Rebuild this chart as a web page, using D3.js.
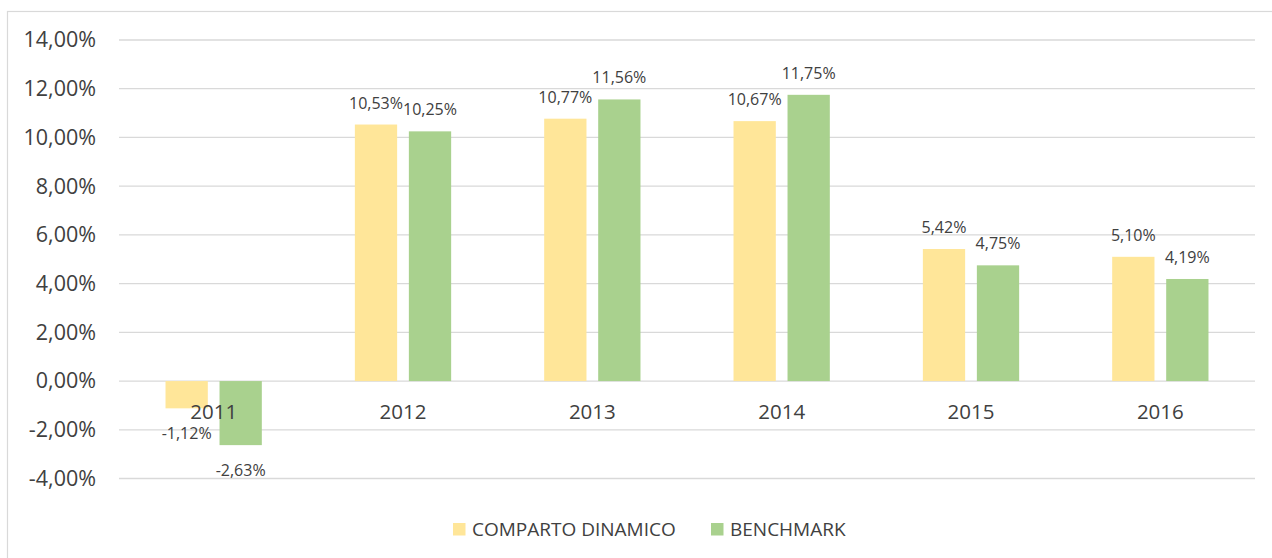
<!DOCTYPE html>
<html><head><meta charset="utf-8">
<script src="https://cdn.jsdelivr.net/npm/d3@7/dist/d3.min.js"></script>
<style>body{margin:0;background:#fff;} svg{display:block;font-family:"Open Sans",sans-serif;}</style>
</head><body><svg id="c" width="1272" height="558"></svg>
<script>
const categories = ["2011","2012","2013","2014","2015","2016"];
const seriesNames = ["COMPARTO DINAMICO","BENCHMARK"];
const comparto = [-1.12,10.53,10.77,10.67,5.42,5.10];
const benchmark = [-2.63,10.25,11.56,11.75,4.75,4.19];
const yTicks = [-4,-2,0,2,4,6,8,10,12,14];
const colors = ["#FFE699","#A9D18E"];

(function(){
const fmt = v => v.toFixed(2).replace(".", ",") + "%";
const svg = d3.select("#c");
const W = 1272, H = 558;
const pLeft = 119, pRight = 1255, pTop = 40, pBottom = 478.5;

svg.append("rect").attr("x",7.5).attr("y",11.5).attr("width",W).attr("height",H)
  .attr("fill","none").attr("stroke","#D9D9D9").attr("stroke-width",1.2);

const x = d3.scaleBand().domain(categories).range([pLeft,pRight]).paddingInner(0).paddingOuter(0);
const y = d3.scaleLinear().domain([-4,14]).range([pBottom,pTop]);
const groupW = 96.3;
const inner = d3.scaleBand().domain([0,1]).range([0,groupW]).paddingInner(0.217);
const groupOff = (x.bandwidth()-groupW)/2;

svg.append("g").selectAll("line").data(yTicks).join("line")
  .attr("x1",pLeft).attr("x2",pRight)
  .attr("y1",d=>y(d)).attr("y2",d=>y(d))
  .attr("stroke","#D9D9D9").attr("stroke-width",1.3);

const yAxis = d3.axisLeft(y).tickValues(yTicks).tickFormat(fmt).tickSize(0).tickPadding(0);
const ya = svg.append("g").attr("transform",`translate(96,0)`).call(yAxis);
ya.select(".domain").remove();
ya.selectAll("text").attr("font-size",21.5).attr("fill","#404040").attr("font-family","Open Sans");

const data = categories.map((c,i)=>({c, vals:[comparto[i],benchmark[i]]}));
const g = svg.append("g");
data.forEach(d=>{
  d.vals.forEach((v,s)=>{
    const bx = x(d.c)+groupOff+inner(s);
    g.append("rect").attr("x",bx).attr("width",inner.bandwidth())
      .attr("y",Math.min(y(v),y(0))).attr("height",Math.abs(y(v)-y(0)))
      .attr("fill",colors[s]);
  });
});

const xa = svg.append("g").attr("transform",`translate(0,${y(0)})`)
  .call(d3.axisBottom(x).tickSize(0).tickPadding(0));
xa.select(".domain").remove();
xa.selectAll("text").attr("font-size",20.5).attr("fill","#404040")
  .attr("font-family","Open Sans").attr("dy",null).attr("y",38);

data.forEach(d=>{
  d.vals.forEach((v,s)=>{
    const cx = x(d.c)+groupOff+inner(s)+inner.bandwidth()/2;
    g.append("text").attr("x",cx)
      .attr("y", v>=0 ? y(v)-16 : y(v)+31)
      .attr("text-anchor","middle").attr("font-size",16).attr("fill","#404040")
      .text(fmt(v));
  });
});

const lg = svg.append("g");
const legendItems = [{x:453, tx:472}, {x:711, tx:730}];
seriesNames.forEach((n,i)=>{
  lg.append("rect").attr("x",legendItems[i].x).attr("y",523).attr("width",12.5).attr("height",12.5).attr("fill",colors[i]);
  lg.append("text").attr("x",legendItems[i].tx).attr("y",536).attr("font-size",19).attr("fill","#404040").text(n);
});
})();
</script></body></html>
